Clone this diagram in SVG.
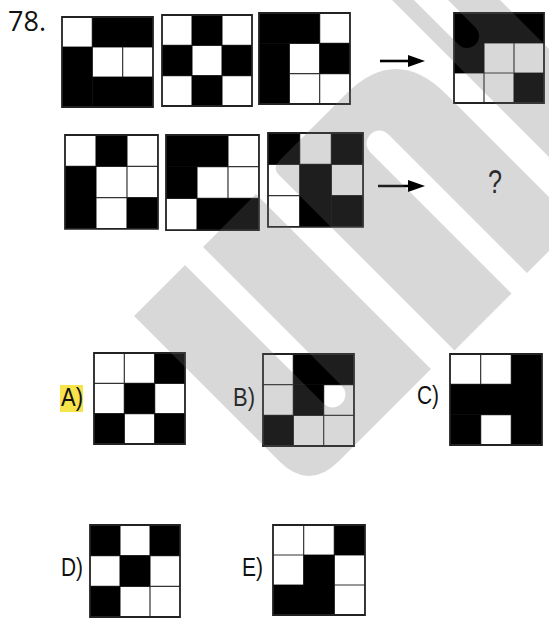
<svg xmlns="http://www.w3.org/2000/svg" width="549" height="619" viewBox="0 0 549 619">
<defs>
<style>
.bg{fill:#fff}
.b{fill:#000}
.ln{stroke:#333;stroke-width:1.2;fill:none;vector-effect:non-scaling-stroke}
.bd{stroke:#222;stroke-width:1.8;fill:none;vector-effect:non-scaling-stroke}
.lbl{font-family:"Liberation Sans",Arial,sans-serif;font-size:26px;fill:#111}
.wm{fill:#707070;fill-opacity:0.27}
</style>
</defs>
<rect x="0" y="0" width="549" height="619" fill="#fff"/>
<text x="8" y="31" font-family="'Open Sans','DejaVu Sans',sans-serif" font-size="27" fill="#111">78.</text>

<g id="g1" transform="translate(62,17) scale(1.011,1)">
<rect class="bg" width="90" height="90"/><path class="ln" d="M30 0V90M60 0V90M0 30H90M0 60H90"/>
<rect class="b" x="30" y="0" width="60" height="30"/><rect class="b" x="0" y="30" width="30" height="60"/><rect class="b" x="30" y="60" width="60" height="30"/>
<rect class="bd" width="90" height="90"/></g>

<g id="g2" transform="translate(162,15) scale(1,1.011)">
<rect class="bg" width="90" height="90"/><path class="ln" d="M30 0V90M60 0V90M0 30H90M0 60H90"/>
<rect class="b" x="30" y="0" width="30" height="30"/><rect class="b" x="0" y="30" width="30" height="30"/><rect class="b" x="60" y="30" width="30" height="30"/><rect class="b" x="30" y="60" width="30" height="30"/>
<rect class="bd" width="90" height="90"/></g>

<g id="g3" transform="translate(259,13) scale(1.011,1.011)">
<rect class="bg" width="90" height="90"/><path class="ln" d="M30 0V90M60 0V90M0 30H90M0 60H90"/>
<rect class="b" x="0" y="0" width="60" height="30"/><rect class="b" x="0" y="30" width="30" height="60"/><rect class="b" x="60" y="30" width="30" height="30"/>
<rect class="bd" width="90" height="90"/></g>

<g id="result" transform="translate(454,13)">
<rect class="bg" width="90" height="90"/><path class="ln" d="M30 0V90M60 0V90M0 30H90M0 60H90"/>
<rect class="b" x="0" y="0" width="90" height="30"/><rect class="b" x="0" y="30" width="30" height="30"/><rect class="b" x="60" y="60" width="30" height="30"/>
<rect class="bd" width="90" height="90"/></g>

<g id="g4" transform="translate(65,135) scale(1.033,1.044)">
<rect class="bg" width="90" height="90"/><path class="ln" d="M30 0V90M60 0V90M0 30H90M0 60H90"/>
<rect class="b" x="30" y="0" width="30" height="30"/><rect class="b" x="0" y="30" width="30" height="60"/><rect class="b" x="60" y="60" width="30" height="30"/>
<rect class="bd" width="90" height="90"/></g>

<g id="g5" transform="translate(166,135) scale(1.033,1.056)">
<rect class="bg" width="90" height="90"/><path class="ln" d="M30 0V90M60 0V90M0 30H90M0 60H90"/>
<rect class="b" x="0" y="0" width="60" height="30"/><rect class="b" x="0" y="30" width="30" height="30"/><rect class="b" x="30" y="60" width="60" height="30"/>
<rect class="bd" width="90" height="90"/></g>

<g id="g6" transform="translate(268,133) scale(1.056,1.044)">
<rect class="bg" width="90" height="90"/><path class="ln" d="M30 0V90M60 0V90M0 30H90M0 60H90"/>
<rect class="b" x="0" y="0" width="30" height="30"/><rect class="b" x="60" y="0" width="30" height="30"/><rect class="b" x="30" y="30" width="30" height="60"/><rect class="b" x="60" y="60" width="30" height="30"/>
<rect class="bd" width="90" height="90"/></g>

<text id="qmark" x="488" y="193" font-family="'Liberation Sans',Arial,sans-serif" font-size="34" textLength="14" lengthAdjust="spacingAndGlyphs" fill="#111">?</text>

<g id="optA">
<rect x="60" y="385" width="23" height="27" fill="#f7e34a"/>
<text class="lbl" x="61" y="406" textLength="22" lengthAdjust="spacingAndGlyphs">A)</text>
<g transform="translate(94,353) scale(1.011,1.011)">
<rect class="bg" width="90" height="90"/><path class="ln" d="M30 0V90M60 0V90M0 30H90M0 60H90"/>
<rect class="b" x="60" y="0" width="30" height="30"/><rect class="b" x="30" y="30" width="30" height="30"/><rect class="b" x="0" y="60" width="30" height="30"/><rect class="b" x="60" y="60" width="30" height="30"/>
<rect class="bd" width="90" height="90"/></g></g>

<g id="optB">
<text class="lbl" x="233" y="406" textLength="22" lengthAdjust="spacingAndGlyphs">B)</text>
<g transform="translate(263,354) scale(1.011,1.022)">
<rect class="bg" width="90" height="90"/><path class="ln" d="M30 0V90M60 0V90M0 30H90M0 60H90"/>
<rect class="b" x="30" y="0" width="60" height="30"/><rect class="b" x="30" y="30" width="30" height="30"/><rect class="b" x="0" y="60" width="30" height="30"/>
<rect class="bd" width="90" height="90"/></g></g>

<g id="optC">
<text class="lbl" x="417" y="404" textLength="22" lengthAdjust="spacingAndGlyphs">C)</text>
<g transform="translate(450,354) scale(1.022,1.011)">
<rect class="bg" width="90" height="90"/><path class="ln" d="M30 0V90M60 0V90M0 30H90M0 60H90"/>
<rect class="b" x="60" y="0" width="30" height="90"/><rect class="b" x="0" y="30" width="90" height="30"/><rect class="b" x="0" y="60" width="30" height="30"/>
<rect class="bd" width="90" height="90"/></g></g>

<g id="optD">
<text class="lbl" x="61" y="576" textLength="22" lengthAdjust="spacingAndGlyphs">D)</text>
<g transform="translate(90,525) scale(1,1.022)">
<rect class="bg" width="90" height="90"/><path class="ln" d="M30 0V90M60 0V90M0 30H90M0 60H90"/>
<rect class="b" x="0" y="0" width="30" height="30"/><rect class="b" x="60" y="0" width="30" height="30"/><rect class="b" x="30" y="30" width="30" height="30"/><rect class="b" x="0" y="60" width="30" height="30"/>
<rect class="bd" width="90" height="90"/></g></g>

<g id="optE">
<text class="lbl" x="242" y="576" textLength="21" lengthAdjust="spacingAndGlyphs">E)</text>
<g transform="translate(273,525) scale(1.022,1)">
<rect class="bg" width="90" height="90"/><path class="ln" d="M30 0V90M60 0V90M0 30H90M0 60H90"/>
<rect class="b" x="60" y="0" width="30" height="30"/><rect class="b" x="30" y="30" width="30" height="30"/><rect class="b" x="0" y="60" width="60" height="30"/>
<rect class="bd" width="90" height="90"/></g></g>

<g id="connectors">
<line x1="380" y1="61" x2="411" y2="61" stroke="#000" stroke-width="2.6"/>
<polygon points="408,55 425,61 408,67" fill="#000"/>
<line x1="378" y1="186" x2="411" y2="186" stroke="#000" stroke-width="2.6"/>
<polygon points="408,180 425,186 408,192" fill="#000"/>
</g>

<g id="watermark" transform="matrix(0.5,0.5,0.5,-0.5,0,0)">
<path class="wm" d="M450 -182L740 -182Q800 -182 800 -122L800 62L450 62L450 -44L727 -44C751 -44 751 -80 727 -80L450 -80Z"/>
<path class="wm" d="M805 104L455 104Q440 104 440 119L440 252Q440 352 540 352L800 352L800 254L523 254C499 254 499 218 523 218L805 218Z"/>
<path class="wm" d="M390 392L1100 392L1100 500L300 500L300 448L502 448C526 448 526 414 502 414L390 414Z"/>
</g>
</svg>
